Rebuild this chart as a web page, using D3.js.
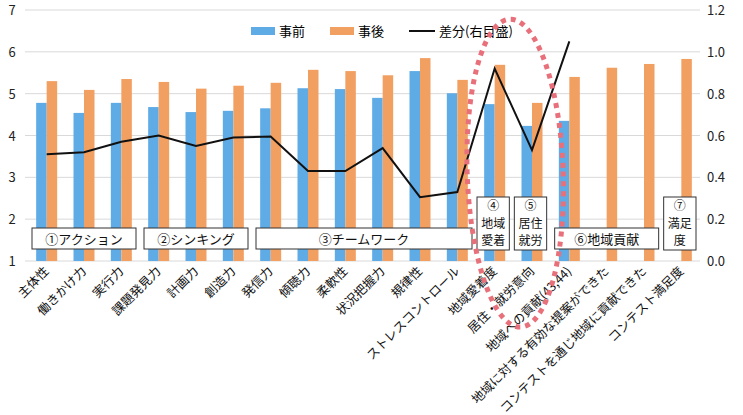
<!DOCTYPE html>
<html>
<head>
<meta charset="utf-8">
<script src="https://cdn.jsdelivr.net/npm/d3@7"></script>
<style>
  body { margin: 0; background: #fff; }
  text { font-family: "Noto Sans CJK JP", sans-serif; }
</style>
</head>
<body>
<div id="chart"></div>
<script>
// 事前・事後アンケート比較
const categories = ["主体性", "働きかけ力", "実行力", "課題発見力", "計画力", "創造力",
  "発信力", "傾聴力", "柔軟性", "状況把握力", "規律性", "ストレスコントロール",
  "地域愛着度", "居住・就労意向", "地域への貢献(43,44)",
  "地域に対する有効な提案ができた", "コンテストを通じ地域に貢献できた", "コンテスト満足度"];
const before = [4.78, 4.54, 4.78, 4.68, 4.56, 4.59, 4.65, 5.13, 5.11, 4.90, 5.54, 5.01,
  4.75, 4.23, 4.35, null, null, null];
const after = [5.30, 5.09, 5.35, 5.28, 5.12, 5.19, 5.26, 5.57, 5.54, 5.44, 5.85, 5.33,
  5.69, 4.78, 5.40, 5.62, 5.71, 5.83];
const diff = [0.51, 0.52, 0.57, 0.60, 0.55, 0.59, 0.595, 0.43, 0.43, 0.54, 0.305, 0.33,
  0.92, 0.53, 1.05];
const leftTicks = [1, 2, 3, 4, 5, 6, 7];
const rightTicks = [0, 0.2, 0.4, 0.6, 0.8, 1.0, 1.2];
// group boxes: first/last category index, text lines
const groups = [
  {from: 0, to: 2, lines: ["①アクション"]},
  {from: 3, to: 5, lines: ["②シンキング"]},
  {from: 6, to: 11, lines: ["③チームワーク"]},
  {from: 12, to: 12, lines: ["④", "地域", "愛着"]},
  {from: 13, to: 13, lines: ["⑤", "居住", "就労"]},
  {from: 14, to: 16, lines: ["⑥地域貢献"]},
  {from: 17, to: 17, lines: ["⑦", "満足", "度"]}
];

const width = 743, height = 415;
const svg = d3.select('#chart').append('svg')
  .attr('width', width).attr('height', height);

const x = d3.scaleBand().domain(categories).range([28, 700]);
const yL = d3.scaleLinear().domain([1, 7]).range([261, 10]);
const yR = d3.scaleLinear().domain([0, 1.2]).range([261, 10]);
const barW = 10.5;

// grid
svg.append('g').selectAll('line').data(leftTicks).join('line')
  .attr('x1', 25).attr('x2', 700)
  .attr('y1', d => yL(d)).attr('y2', d => yL(d))
  .attr('stroke', '#d9d9d9').attr('stroke-width', 1);

// left axis labels
svg.append('g').selectAll('text').data(leftTicks).join('text')
  .attr('x', 12).attr('y', d => yL(d) + 5)
  .attr('text-anchor', 'middle').attr('font-size', 13).attr('fill', '#222')
  .text(d => d);

// right axis labels
svg.append('g').selectAll('text').data(rightTicks).join('text')
  .attr('x', 707).attr('y', d => yR(d) + 5)
  .attr('font-size', 13).attr('fill', '#222')
  .text(d => d.toFixed(1));

// bars
const cx = c => x(c) + x.bandwidth() / 2;
svg.append('g').selectAll('rect')
  .data(categories.map((c, i) => ({c, v: before[i]})).filter(d => d.v != null))
  .join('rect')
  .attr('x', d => cx(d.c) - barW).attr('width', barW)
  .attr('y', d => yL(d.v)).attr('height', d => yL(1) - yL(d.v))
  .attr('fill', '#5fabe6');
svg.append('g').selectAll('rect')
  .data(categories.map((c, i) => ({c, v: after[i]})))
  .join('rect')
  .attr('x', d => cx(d.c)).attr('width', barW)
  .attr('y', d => yL(d.v)).attr('height', d => yL(1) - yL(d.v))
  .attr('fill', '#f2a062');

// diff line
const line = d3.line().x((d, i) => cx(categories[i])).y(d => yR(d));
svg.append('path').datum(diff)
  .attr('d', line).attr('fill', 'none')
  .attr('stroke', '#111').attr('stroke-width', 2);

// group boxes
const gBox = svg.append('g');
groups.forEach(g => {
  const multi = g.lines.length > 1;
  const x0 = x(categories[g.from]) + (multi ? 1 : 4);
  const x1 = x(categories[g.to]) + x.bandwidth() - 4;
  const yTop = multi ? 197 : 228;
  const yBot = multi ? 250 : 249;
  gBox.append('rect')
    .attr('x', x0).attr('y', yTop).attr('width', x1 - x0).attr('height', yBot - yTop)
    .attr('fill', '#fff').attr('stroke', '#333').attr('stroke-width', 1);
  gBox.selectAll(null).data(g.lines).join('text')
    .attr('x', (x0 + x1) / 2)
    .attr('y', (d, i) => multi ? yTop + 13 + i * 17.5 : yTop + 15.5)
    .attr('text-anchor', 'middle').attr('font-size', multi ? 12 : 13).attr('fill', '#111')
    .text(d => d);
});

// x labels
svg.append('g').selectAll('text').data(categories).join('text')
  .attr('transform', d => `translate(${cx(d) + 3},${272}) rotate(-45)`)
  .attr('text-anchor', 'end').attr('font-size', 12.5).attr('fill', '#111')
  .text(d => d);

// legend
const legend = svg.append('g').attr('transform', 'translate(0,31)');
legend.append('rect').attr('x', 251).attr('y', -4).attr('width', 24).attr('height', 8).attr('fill', '#5fabe6');
legend.append('text').attr('x', 279).attr('y', 5).attr('font-size', 13).text('事前');
legend.append('rect').attr('x', 330).attr('y', -4).attr('width', 24).attr('height', 8).attr('fill', '#f2a062');
legend.append('text').attr('x', 358).attr('y', 5).attr('font-size', 13).text('事後');
legend.append('line').attr('x1', 409).attr('x2', 435).attr('y1', 0).attr('y2', 0)
  .attr('stroke', '#111').attr('stroke-width', 2);
legend.append('text').attr('x', 439).attr('y', 5).attr('font-size', 13).text('差分(右目盛)');

// red dotted ellipse annotation
const ex = x(categories[12]) + x.bandwidth() * 1.05;
svg.append('ellipse')
  .attr('cx', ex).attr('cy', yL(3.1))
  .attr('rx', 48).attr('ry', 154)
  .attr('transform', `rotate(-2,${ex},${yL(3.1)})`)
  .attr('fill', 'none').attr('stroke', '#e8707a')
  .attr('stroke-width', 5).attr('stroke-dasharray', '5,5');
</script>
</body>
</html>
